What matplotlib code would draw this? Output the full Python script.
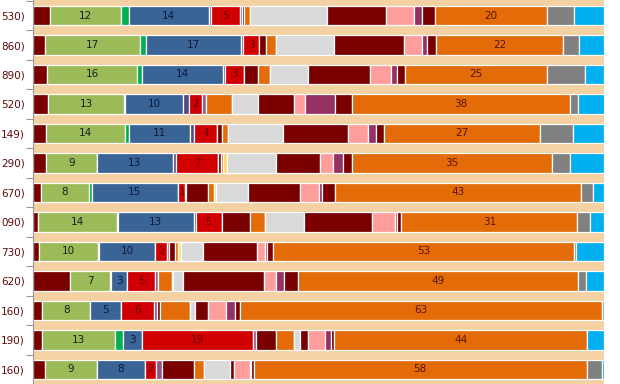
import numpy as np
import matplotlib.pyplot as plt

# row labels (cut off on the left in the original)
rows = ["530)", "860)", "890)", "520)", "149)", "290)", "670)",
        "090)", "730)", "620)", "160)", "190)", "160)"]

# share of each segment per row, in percent
dark_red_a   = [3.0, 2.1, 2.4, 2.6, 2.3, 2.3, 1.4, 0.9, 1.0, 6.5, 1.5, 1.6, 2.0]
green        = [12.4, 16.6, 15.8, 13.3, 13.7, 8.8, 8.3, 13.7, 10.4, 6.9, 8.5, 12.7, 9.1]
green_b      = [1.3, 1.0, 0.9, 0.2, 0.8, 0.0, 0.5, 0.2, 0.1, 0.3, 0.0, 1.4, 0.0]
blue         = [14.1, 16.7, 14.1, 10.2, 10.7, 13.4, 15.2, 13.3, 9.8, 2.8, 5.4, 3.4, 8.4]
slate        = [0.25, 0.4, 0.35, 0.9, 0.7, 0.5, 0.0, 0.35, 0.0, 0.0, 0.0, 0.0, 0.0]
red          = [5.2, 2.8, 3.4, 2.3, 4.0, 7.4, 1.2, 4.6, 2.2, 4.9, 5.8, 19.4, 2.0]
mauve        = [0.4, 0.0, 0.0, 0.8, 0.0, 0.0, 0.2, 0.0, 0.3, 0.4, 0.4, 0.5, 1.0]
dark_red_b   = [0.3, 1.2, 2.4, 0.0, 0.9, 0.5, 3.8, 5.0, 1.0, 0.0, 0.6, 3.6, 5.6]
orange_small = [1.1, 1.8, 2.1, 4.6, 1.0, 0.4, 1.0, 2.5, 0.6, 2.5, 5.3, 3.0, 1.8]
yellow       = [0.0, 0.0, 0.0, 0.0, 0.0, 0.6, 0.35, 0.0, 0.5, 0.2, 0.0, 0.1, 0.0]
light_gray   = [13.4, 10.1, 6.6, 4.5, 9.7, 8.6, 5.6, 6.9, 3.9, 1.8, 0.9, 1.05, 4.6]
dark_red_c   = [10.3, 12.3, 10.9, 6.2, 11.4, 7.8, 9.2, 11.9, 9.4, 14.1, 2.2, 1.4, 0.6]
pink         = [4.9, 3.1, 3.8, 2.0, 3.5, 2.2, 3.3, 4.1, 1.4, 2.2, 3.1, 2.9, 2.8]
purple       = [1.5, 0.9, 1.0, 5.3, 1.4, 1.7, 0.6, 0.35, 0.4, 1.4, 1.7, 1.2, 0.2]
dark_red_d   = [2.2, 1.6, 1.3, 2.9, 1.4, 1.7, 2.2, 0.7, 1.0, 2.4, 0.9, 0.45, 0.5]
orange       = [19.6, 22.2, 25.0, 38.3, 27.2, 35.0, 43.2, 30.8, 52.8, 49.0, 63.3, 44.4, 58.4]
gray         = [4.8, 2.9, 6.7, 1.3, 5.9, 3.1, 2.1, 2.2, 0.3, 1.5, 0.35, 0.0, 2.6]
light_blue   = [5.2, 4.3, 3.2, 4.7, 5.4, 6.0, 1.8, 2.5, 4.9, 3.1, 0.0, 2.9, 0.4]

# (values, colour, label colour or None)
series = [
    (dark_red_a, "#7A0000", None),
    (green, "#9BBB59", "#1E1E1E"),
    (green_b, "#00B050", None),
    (blue, "#3A6496", "#0B1A3A"),
    (slate, "#5A4A7A", None),
    (red, "#D00000", "#6E0000"),
    (mauve, "#9A5080", None),
    (dark_red_b, "#7A0000", None),
    (orange_small, "#E36C09", None),
    (yellow, "#FFD966", None),
    (light_gray, "#D9D9D9", None),
    (dark_red_c, "#7A0000", None),
    (pink, "#FF9C9C", None),
    (purple, "#953163", None),
    (dark_red_d, "#7A0000", None),
    (orange, "#E36C09", "#5A1400"),
    (gray, "#808080", None),
    (light_blue, "#00B0F0", None),
]

fig = plt.figure(figsize=(6.2, 3.84), dpi=100)
ax = fig.add_axes([33.3 / 620, 0, (604 - 33.3) / 620, 1])
ax.set_facecolor("#F3D1A2")

y = np.arange(len(rows))
left = np.zeros(len(rows))
for vals, col, txtcol in series:
    vals = np.array(vals)
    ax.barh(y, vals, left=left, height=0.66, color=col,
            edgecolor="white", linewidth=0.9)
    if txtcol:
        for i, v in enumerate(vals):
            if v > 0:
                ax.text(left[i] + v / 2, y[i], str(int(round(v))),
                        ha="center", va="center", fontsize=7.5, color=txtcol)
    left += vals

ax.set_xlim(0, 100)
ax.set_ylim((384 - 16) / 30.36, -16 / 30.36)
ax.set_xticks([])
ax.set_yticks(y)
ax.set_yticklabels(rows, fontsize=7.5, color="#5C0A0A")
ax.set_yticks(np.arange(len(rows) + 1) - 0.5, minor=True)
ax.tick_params(axis="y", which="major", length=0, pad=6)
ax.tick_params(axis="y", which="minor", length=5, color="#999999", width=0.8)
for s in ["top", "right", "bottom"]:
    ax.spines[s].set_visible(False)
ax.spines["left"].set_color("#999999")
ax.spines["left"].set_linewidth(0.8)

fig.savefig("out.png", dpi=100)
